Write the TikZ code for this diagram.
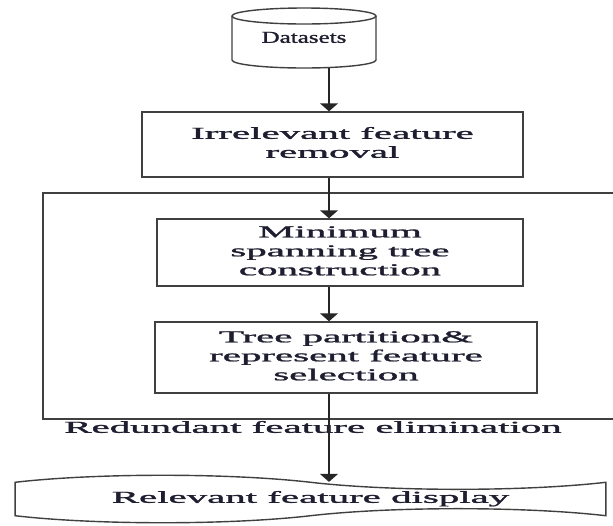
\documentclass[tikz,border=0pt]{standalone}
\usepackage{fontspec}
\setmainfont{Liberation Serif}[FakeBold=1.2]
\usetikzlibrary{arrows.meta,shapes.symbols}
\definecolor{inkblue}{RGB}{30,30,48}
\newcommand{\wtext}[2][2.45]{\scalebox{#1}[1]{\fontsize{9.5}{10.8}\selectfont\begin{tabular}{@{}c@{}}#2\end{tabular}}}
\begin{document}
\begin{tikzpicture}[x=0.02cm, y=-0.02cm,
                    every node/.style={inner sep=0pt, text centered, text=inkblue},
                    box/.style={draw=black!75, line width=0.8pt},
                    arr/.style={-{Triangle[width=10pt,length=4.5pt]}, line width=1.3pt, draw=black!85}]
  \useasboundingbox (0,0) rectangle (613,525);
  \clip (0,0) rectangle (613,525);
  \coordinate (axis) at (329,0);
  % datasets drum
  \node[minimum width=2.86cm, minimum height=1.16cm] (datasets) at (304,39) {\wtext[1.5]{Datasets}};
  \draw[box] (304,16) ellipse [x radius=72, y radius=8];
  \draw[box] (232,16) -- (232,60) arc [start angle=180, end angle=0, x radius=72, y radius=8] -- (376,16);
  \node[box, minimum width=7.62cm, minimum height=1.3cm] (irrelevant) at (332.5,144.5) {\wtext{Irrelevant feature\\removal}};
  \node[box, minimum width=11.94cm, minimum height=4.52cm] (redundant) at (341.5,306) {};
  \node (redundant_label) at (313,429) {\wtext{Redundant feature elimination}};
  \node[box, minimum width=7.32cm, minimum height=1.34cm] (mst) at (340,252.5) {\wtext{Minimum\\spanning tree\\construction}};
  \node[box, minimum width=7.64cm, minimum height=1.42cm] (partition) at (346,357.5) {\wtext{Tree partition\&\\represent feature\\selection}};
  \node[box, tape, tape bend top=out and in, tape bend bottom=in and out, tape bend height=8pt,
        minimum width=11.82cm, minimum height=0.95cm] (display) at (310.5,499) {\wtext{Relevant feature display}};
  \draw[arr] (datasets.south -| axis) -- (irrelevant.north -| axis);
  \draw[arr] (irrelevant.south -| axis) -- (mst.north -| axis);
  \draw[arr] (mst.south -| axis) -- (partition.north -| axis);
  \draw[arr] (partition.south -| axis) -- (display.north -| axis);
\end{tikzpicture}
\end{document}
